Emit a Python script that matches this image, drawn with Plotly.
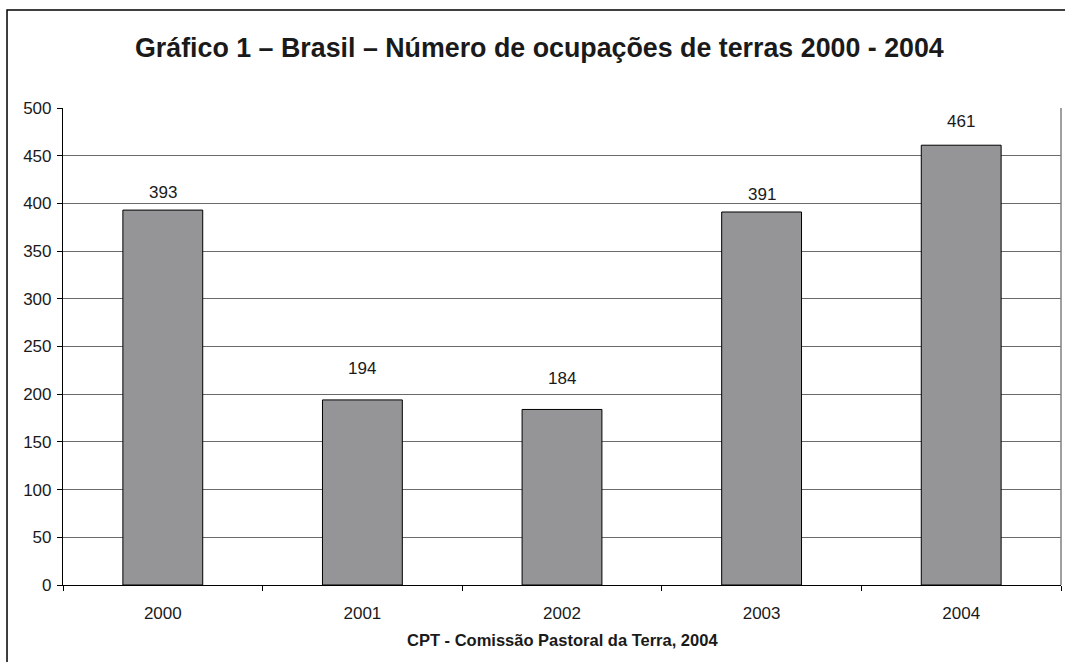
import plotly.graph_objects as go

anos = ["2000", "2001", "2002", "2003", "2004"]
ocupacoes = [393, 194, 184, 391, 461]
y_ticks = [0, 50, 100, 150, 200, 250, 300, 350, 400, 450, 500]

# vertical gap (px) between each bar top and its value label
label_gap = [6, 20, 19, 6, 12]

titulo = "Gráfico 1 – Brasil – Número de ocupações de terras 2000 - 2004"
fonte = "CPT - Comissão Pastoral da Terra, 2004"

FONT = "Arial, Liberation Sans, sans-serif"
TXT = "#1a1a1a"

fig = go.Figure()
fig.add_trace(go.Bar(
    x=anos,
    y=ocupacoes,
    width=0.4,
    marker=dict(color="#959598", line=dict(color="#000000", width=1)),
    hoverinfo="x+y",
))

# value labels above each bar
for i, (v, g) in enumerate(zip(ocupacoes, label_gap)):
    fig.add_annotation(
        x=i, y=v, text=str(v), showarrow=False,
        yanchor="bottom", yshift=g,
        font=dict(family=FONT, size=17, color=TXT),
    )

# chart title and source note
fig.add_annotation(
    xref="paper", yref="paper", x=0.477, y=1.126,
    text="<b>" + titulo + "</b>", showarrow=False,
    xanchor="center", yanchor="middle",
    font=dict(family=FONT, size=26.8, color=TXT),
)
fig.add_annotation(
    xref="paper", yref="paper", x=0.501, y=-0.116,
    text="<b>" + fonte + "</b>", showarrow=False,
    xanchor="center", yanchor="middle",
    font=dict(family=FONT, size=16.5, color=TXT),
)

# outer chart frame and right border of plot area
fig.add_shape(type="rect", xref="paper", yref="paper",
              x0=-0.0561, y0=-0.3, x1=1.2, y1=1.2055,
              line=dict(color="#000000", width=1.5), layer="above")
fig.add_shape(type="line", xref="paper", yref="paper",
              x0=1, y0=0, x1=1, y1=1,
              line=dict(color="#808080", width=1.5), layer="above")

fig.update_layout(
    width=1065, height=662,
    margin=dict(l=63, r=4, t=108, b=77),
    paper_bgcolor="#ffffff", plot_bgcolor="#ffffff",
    showlegend=False,
    font=dict(family=FONT, size=17, color=TXT),
    xaxis=dict(
        type="category",
        categoryorder="array", categoryarray=anos,
        range=[-0.5, 4.5],
        showline=True, linecolor="#000000", linewidth=1.2,
        ticks="outside", tickson="boundaries", ticklen=5,
        tickcolor="#000000", tickwidth=1,
        showgrid=False, tickangle=0,
        ticklabelstandoff=12,
        tickfont=dict(family=FONT, size=17, color=TXT),
    ),
    yaxis=dict(
        range=[0, 500], tickvals=y_ticks,
        showline=True, linecolor="#000000", linewidth=1.2,
        ticks="outside", ticklen=5, tickcolor="#000000", tickwidth=1,
        showgrid=True, gridcolor="#6a6a6a", gridwidth=1.2,
        zeroline=False,
        ticklabelstandoff=2,
        tickfont=dict(family=FONT, size=17, color=TXT),
    ),
)

fig.write_html("out.html")
